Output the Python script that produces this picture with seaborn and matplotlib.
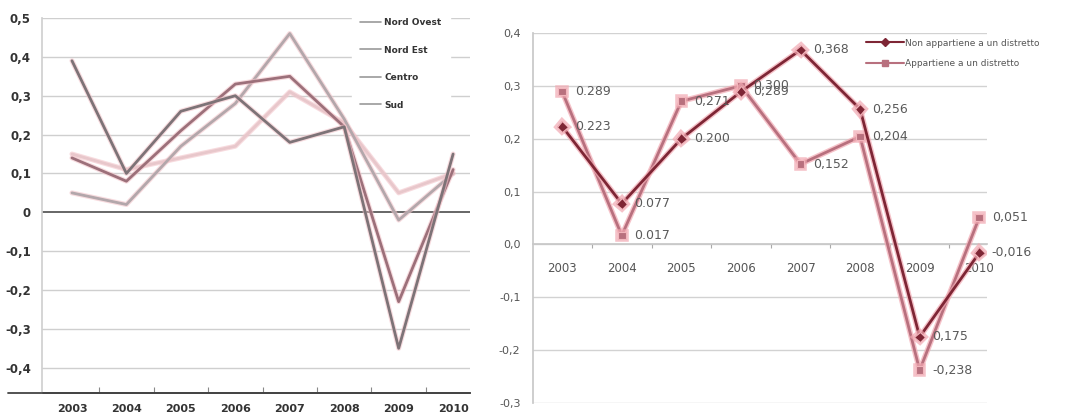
import numpy as np
import pandas as pd
import seaborn as sns
import matplotlib.pyplot as plt
import matplotlib.patheffects as pe
from matplotlib.ticker import FixedLocator

# ---------------- data ----------------
years = ["2003", "2004", "2005", "2006", "2007", "2008", "2009", "2010"]

# left chart (by area)
nord_ovest = [0.39, 0.10, 0.26, 0.30, 0.18, 0.22, -0.35, 0.15]
nord_est = [0.14, 0.08, 0.21, 0.33, 0.35, 0.22, -0.23, 0.11]
centro = [0.05, 0.02, 0.17, 0.28, 0.46, 0.24, -0.02, 0.10]
sud = [0.15, 0.11, 0.14, 0.17, 0.31, 0.23, 0.05, 0.10]
left_names = ["Nord Ovest", "Nord Est", "Centro", "Sud"]
left_yticks = [0.5, 0.4, 0.3, 0.2, 0.1, 0.0, -0.1, -0.2, -0.3, -0.4]
left_ylabels = ["0,5", "0,4", "0,3", "0,2", "0,1", "0", "-0,1", "-0,2", "-0,3", "-0,4"]

# right chart (district membership)
non_app = [0.223, 0.077, 0.200, 0.289, 0.368, 0.256, -0.175, -0.016]
app = [0.289, 0.017, 0.271, 0.300, 0.152, 0.204, -0.238, 0.051]
non_app_labels = ["0.223", "0.077", "0.200", "0,289", "0,368", "0,256", "0,175", "-0,016"]
app_labels = ["0.289", "0.017", "0,271", "0,300", "0,152", "0,204", "-0,238", "0,051"]
right_names = ["Non appartiene a un distretto", "Appartiene a un distretto"]
right_yticks = [0.4, 0.3, 0.2, 0.1, 0.0, -0.1, -0.2, -0.3]
right_ylabels = ["0,4", "0,3", "0,2", "0,1", "0,0", "-0,1", "-0,2", "-0,3"]

# ---------------- figure ----------------
sns.set_theme(style="white")
plt.rcParams["font.family"] = ["DejaVu Sans"]

W, H = 1069, 419
fig = plt.figure(figsize=(W / 100, H / 100), dpi=100)
fig.patch.set_facecolor("white")

def px_axes(left, top, right, bottom):
    return fig.add_axes([left / W, 1 - bottom / H, (right - left) / W, (bottom - top) / H])

xpos = np.arange(len(years))

# ---------- left chart ----------
ax1 = px_axes(42, 18, 470, 393)
df_left = pd.DataFrame({
    "x": np.tile(xpos, 4),
    "v": nord_ovest + nord_est + centro + sud,
    "serie": np.repeat(left_names, len(years)),
})
left_colors = ["#7d7377", "#9c707a", "#b3a7ab", "#e8c7cb"]
for y in left_yticks:
    if y == 0:
        continue
    ax1.axhline(y, color="#cfcfcf", lw=1.0, zorder=0)
ax1.axhline(0, color="#5a5a5a", lw=1.3, zorder=1)

halo = [pe.Stroke(linewidth=3.6, foreground="#f3c3c9", alpha=0.6), pe.Normal()]
sns.lineplot(data=df_left, x="x", y="v", hue="serie", hue_order=left_names[::-1],
             palette=dict(zip(left_names, left_colors)), lw=2.0, ax=ax1,
             legend=False, sort=False, zorder=3)
for ln in ax1.get_lines()[-4:]:
    ln.set_path_effects(halo)

ax1.set_xlim(-0.55, 7.31)
ax1.set_ylim(-0.465, 0.5)
ax1.set_xticks(xpos)
ax1.set_xticklabels(years, fontsize=8, fontweight="bold", color="#333333")
ax1.xaxis.set_minor_locator(FixedLocator(xpos[:-1] + 0.5))
ax1.tick_params(axis="x", which="major", length=0, pad=8)
ax1.tick_params(axis="x", which="minor", length=4, width=0.8, color="#888888", direction="in", bottom=True)
ax1.set_yticks(left_yticks)
ax1.set_yticklabels(left_ylabels, fontsize=8.5, fontweight="bold", color="#333333")
ax1.tick_params(axis="y", length=0, pad=8)
ax1.set_xlabel("")
ax1.set_ylabel("")
for s in ["top", "right"]:
    ax1.spines[s].set_visible(False)
ax1.spines["left"].set_color("#d0d0d0")
ax1.spines["bottom"].set_color("#444444")
ax1.spines["bottom"].set_linewidth(1.3)
ax1.plot([-0.08, 1.0], [0, 0], transform=ax1.transAxes, color="#444444", lw=1.3, clip_on=False)

handles1 = [plt.Line2D([], [], color="#9a9a9a", lw=1.2) for _ in left_names]
leg1 = ax1.legend(handles1, left_names, loc="upper left", bbox_to_anchor=(352 / W, 1 - 10 / H),
                  bbox_transform=fig.transFigure, frameon=True, fontsize=6.5,
                  handlelength=2.3, handletextpad=0.4, labelspacing=2.05, borderpad=0.9,
                  borderaxespad=0)
leg1.get_frame().set_facecolor("white")
leg1.get_frame().set_edgecolor("white")
leg1.get_frame().set_alpha(1)
for t in leg1.get_texts():
    t.set_fontweight("bold")
    t.set_color("#333333")
leg1.set_zorder(5)

# ---------- right chart ----------
ax2 = px_axes(533, 33, 987, 403)
df_right = pd.DataFrame({
    "x": np.tile(xpos, 2),
    "v": non_app + app,
    "serie": np.repeat(right_names, len(years)),
})
right_colors = {"Non appartiene a un distretto": "#7e2635",
                "Appartiene a un distretto": "#b8707e"}
for y in right_yticks:
    ax2.axhline(y, color="#d2d2d2", lw=1.0, zorder=0)

halo2 = [pe.Stroke(linewidth=4.0, foreground="#f2a9b2", alpha=0.7), pe.Normal()]
sns.lineplot(data=df_right, x="x", y="v", hue="serie", style="serie",
             hue_order=right_names[::-1], style_order=right_names,
             palette=right_colors, markers={"Non appartiene a un distretto": "D",
                                            "Appartiene a un distretto": "s"},
             dashes=False, markersize=5.5, lw=2.0, ax=ax2, legend=False, sort=False, zorder=3)
for ln in ax2.get_lines()[-2:]:
    ln.set_path_effects(halo2)
    ln.set_markeredgecolor("#f2b5bc")
    ln.set_markeredgewidth(0.8)

for xi, v, lab in zip(xpos, non_app, non_app_labels):
    ax2.annotate(lab, (xi, v), xytext=(9, 0), textcoords="offset points",
                 ha="left", va="center", fontsize=9, color="#5a5a5a", zorder=6,
                 annotation_clip=False)
for xi, v, lab in zip(xpos, app, app_labels):
    ax2.annotate(lab, (xi, v), xytext=(9, 0), textcoords="offset points",
                 ha="left", va="center", fontsize=9, color="#5a5a5a", zorder=6,
                 annotation_clip=False)

# spine position first (it resets the tick objects), then tick styling
ax2.spines["bottom"].set_position(("data", 0))
ax2.set_xlim(-0.49, 7.13)
ax2.set_ylim(-0.3, 0.4)
ax2.set_xticks(xpos)
ax2.set_xticklabels(years, fontsize=8.5, color="#555555")
ax2.xaxis.set_minor_locator(FixedLocator(xpos[:-1] + 0.5))
ax2.tick_params(axis="x", which="major", length=0, pad=13, labelsize=8.5, labelcolor="#555555")
ax2.tick_params(axis="x", which="minor", length=3, width=0.8, color="#aaaaaa", direction="out", bottom=True)
ax2.set_yticks(right_yticks)
ax2.set_yticklabels(right_ylabels, fontsize=8, color="#555555")
ax2.tick_params(axis="y", length=0, pad=9)
ax2.set_xlabel("")
ax2.set_ylabel("")
for s in ["top", "right"]:
    ax2.spines[s].set_visible(False)
ax2.spines["bottom"].set_color("#c8c8c8")
ax2.spines["left"].set_color("#c8c8c8")

handles2 = [plt.Line2D([], [], color="#7e2635", lw=1.5, marker="D", markersize=4),
            plt.Line2D([], [], color="#b8707e", lw=1.5, marker="s", markersize=4)]
leg2 = ax2.legend(handles2, right_names, loc="upper left", bbox_to_anchor=(862 / W, 1 - 35 / H),
                  bbox_transform=fig.transFigure, frameon=True, fontsize=6.5,
                  handlelength=4.2, handletextpad=0.2, labelspacing=1.3, borderpad=0.4,
                  borderaxespad=0)
leg2.get_frame().set_facecolor("white")
leg2.get_frame().set_edgecolor("white")
leg2.get_frame().set_alpha(1)
for t in leg2.get_texts():
    t.set_color("#555555")
leg2.set_zorder(5)

fig.savefig("out.png", dpi=100, facecolor="white")
